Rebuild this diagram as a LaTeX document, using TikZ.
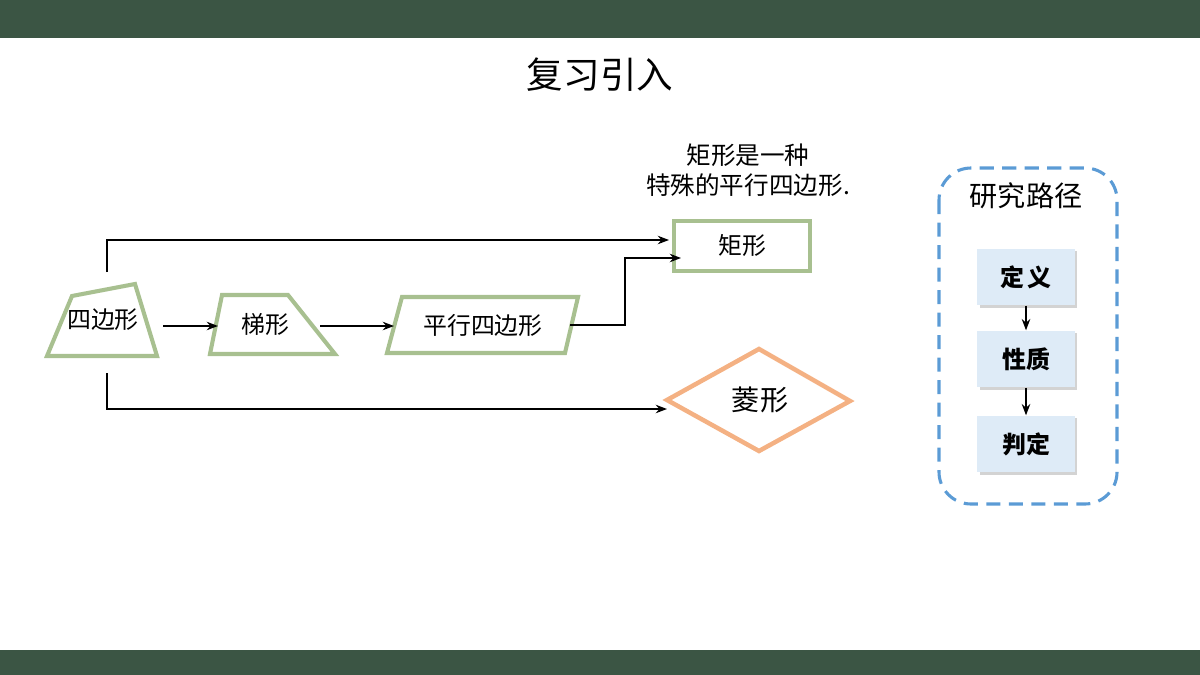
\documentclass[tikz,border=0pt]{standalone}
\usepackage{fontspec}
\setmainfont{Noto Sans CJK SC}
\usepackage{xcolor}
\usetikzlibrary{arrows.meta,shadows}
\definecolor{bargreen}{RGB}{59,85,68}
\definecolor{shapegreen}{RGB}{168,192,144}
\definecolor{rhomborange}{RGB}{244,177,131}
\definecolor{pathblue}{RGB}{91,155,213}
\definecolor{stepblue}{RGB}{222,235,247}

\tikzset{
  outline/.style={draw=shapegreen, line width=2.9pt, line join=miter},
  link/.style={line width=1.9pt, -{Stealth[length=8pt,width=6pt]}},
  label/.style={font=\fontsize{17}{20}\selectfont},
  stepbox/.style={fill=stepblue, align=center,
    minimum width=2.43cm, minimum height=1.42cm, font=\fontsize{17}{20}\selectfont\bfseries,
    drop shadow={shadow xshift=1.5pt, shadow yshift=-1.5pt, opacity=0.35}}
}

\begin{document}
\begin{tikzpicture}[x=0.025cm, y=-0.025cm]
\useasboundingbox (0,0) rectangle (1200,675);
% bars
\fill[bargreen] (0,0) rectangle (1200,38);
\fill[bargreen] (0,650) rectangle (1200,675);
\node[font=\fontsize{26}{30}\selectfont] (title) at (600,75) {复习引入};

% shapes
\draw[outline] (72,296) -- (135,284) -- (157,356) -- (47,356) -- cycle;
\node[label] (quad) at (103,320) {四边形};
\draw[outline] (222,295) -- (288,295) -- (335,354) -- (210,354) -- cycle;
\node[label] (trap) at (265,324) {梯形};
\draw[outline] (402,297) -- (578,297) -- (565,353) -- (387,353) -- cycle;
\node[label] (para) at (483,325) {平行四边形};
\draw[outline] (674,221) rectangle (810,271);
\node[label] (rect) at (742,245) {矩形};
\draw[draw=rhomborange, line width=3.2pt] (667,400) -- (759,349) -- (850,401) -- (759,451) -- cycle;
\node[font=\fontsize{20}{24}\selectfont] (rhomb) at (760,400) {菱形};
\node[font=\fontsize{17.5}{21.5}\selectfont, align=center] (note) at (748,170) {矩形是一种\\特殊的平行四边形.};

% connection points
\coordinate (quadtop) at (107,272);
\coordinate (quadbot) at (107,373);
\coordinate (quadright) at (163,326);
\coordinate (trapleft) at (218,326);
\coordinate (trapright) at (320,326);
\coordinate (paraleft) at (394,326);
\coordinate (pararight) at (570,325);
\coordinate (rectin) at (681,258);
\coordinate (recttop) at (669,240);
\coordinate (rhombin) at (667,409);

% connectors
\draw[link] (quadtop) |- (recttop);
\draw[link] (quadbot) |- (rhombin);
\draw[link] (quadright) -- (trapleft);
\draw[link] (trapright) -- (paraleft);
\draw[link] (pararight) -- (625,325) |- (rectin);

% research path
\draw[pathblue, line width=2.2pt, dash pattern=on 10pt off 6pt, rounded corners=0.8cm]
  (939,168) rectangle (1117,504);
\node[font=\fontsize{20}{24}\selectfont] (pathtitle) at (1026,196) {研究路径};
\node[stepbox] (def) at (1026,277) {定\,义};
\node[stepbox] (prop) at (1026,359) {性质};
\node[stepbox] (test) at (1026,444) {判定};
\draw[link, line width=1.5pt] (def) -- (prop);
\draw[link, line width=1.5pt] (prop) -- (test);
\end{tikzpicture}
\end{document}
